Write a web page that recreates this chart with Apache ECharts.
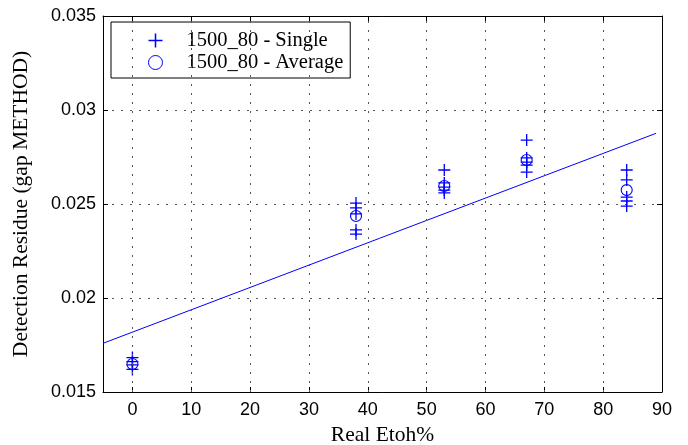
<!DOCTYPE html>
<html>
<head>
<meta charset="utf-8">
<script src="https://cdn.jsdelivr.net/npm/echarts@6/dist/echarts.min.js"></script>
<style>html,body{margin:0;padding:0;background:#fff;}#c{width:688px;height:445px;}</style>
</head>
<body>
<div id="c"></div>
<script>
// ---- data ----
var xTicks = [0, 10, 20, 30, 40, 50, 60, 70, 80, 90];
var singleX = [0, 0, 0, 0, 38, 38, 38, 38, 38, 53, 53, 53, 53, 53, 67, 67, 67, 67, 67, 84, 84, 84, 84, 84];
var singleY = [0.01683, 0.01662, 0.01644, 0.01620,
               0.02505, 0.02479, 0.02447, 0.02362, 0.02340,
               0.02681, 0.02612, 0.02590, 0.02574, 0.02559,
               0.02840, 0.02745, 0.02723, 0.02707, 0.02670,
               0.02681, 0.02628, 0.02537, 0.02516, 0.02489];
var avgX = [0, 38, 53, 67, 84];
var avgY = [0.01649, 0.02436, 0.02596, 0.02734, 0.02574];
var fitX = [-5, 89];
var fitY = [0.01759, 0.02876];

function pairs(xs, ys) { return xs.map(function (x, i) { return [x, ys[i]]; }); }

var BLUE = '#0000ff';
var plusPath = 'path://M4.45,0H5.55V4.45H10V5.55H5.55V10H4.45V5.55H0V4.45H4.45Z';
var grid = { type: [2, 7], color: '#555', width: 1 };

var chart = echarts.init(document.getElementById('c'), null, { renderer: 'canvas' });
chart.setOption({
  animation: false,
  backgroundColor: '#fff',
  grid: { left: 103, right: 26, top: 16, bottom: 53, containLabel: false, outerBoundsMode: 'none' },
  legend: {
    left: 111, top: 22, orient: 'vertical',
    borderColor: '#000', borderWidth: 1, backgroundColor: '#fff',
    padding: [8, 7, 5, 37],
    itemWidth: 14, itemHeight: 14, itemGap: 1,
    itemStyle: { borderWidth: 1 },
    textStyle: { fontFamily: 'Liberation Serif', fontSize: 20.5, color: '#000', lineHeight: 20, padding: [0, 0, 0, 19] },
    data: ['1500_80 - Single', '1500_80 - Average']
  },
  xAxis: [{
    type: 'value', min: -5, max: 90,
    name: 'Real Etoh%', nameLocation: 'middle', nameGap: 31,
    nameTextStyle: { fontFamily: 'Liberation Serif', fontSize: 21.5, color: '#000' },
    axisLine: { onZero: false, lineStyle: { color: '#000', width: 1 } },
    axisTick: { inside: true, length: 5, customValues: xTicks, lineStyle: { color: '#000' } },
    axisLabel: { customValues: xTicks, fontFamily: 'Liberation Sans', fontSize: 18, color: '#000', margin: 9 },
    splitLine: { show: false }
  }, {
    type: 'value', min: -5, max: 90, position: 'top',
    axisLine: { onZero: false, lineStyle: { color: '#000', width: 1 } },
    axisTick: { inside: true, length: 5, customValues: xTicks, lineStyle: { color: '#000' } },
    axisLabel: { show: false },
    splitLine: { show: false }
  }],
  yAxis: [{
    type: 'value', min: 0.015, max: 0.035, interval: 0.005,
    name: 'Detection Residue (gap METHOD)', nameLocation: 'middle', nameGap: 71,
    nameTextStyle: { fontFamily: 'Liberation Serif', fontSize: 21.5, color: '#000' },
    axisLine: { onZero: false, lineStyle: { color: '#000', width: 1 } },
    axisTick: { inside: true, length: 5, lineStyle: { color: '#000' } },
    axisLabel: { fontFamily: 'Liberation Sans', fontSize: 18, color: '#000', margin: 7 },
    splitLine: { show: true, lineStyle: grid }
  }, {
    type: 'value', min: 0.015, max: 0.035, interval: 0.005, position: 'right',
    axisLine: { onZero: false, lineStyle: { color: '#000', width: 1 } },
    axisTick: { inside: true, length: 5, lineStyle: { color: '#000' } },
    axisLabel: { show: false },
    splitLine: { show: false }
  }],
  series: [{
    name: 'xgrid', type: 'line', data: [], silent: true,
    markLine: {
      silent: true, symbol: 'none', label: { show: false },
      lineStyle: grid,
      data: xTicks.slice(0, -1).map(function (v) { return { xAxis: v }; })
    }
  }, {
    name: 'fit', type: 'line', data: pairs(fitX, fitY), showSymbol: false, silent: true,
    lineStyle: { color: BLUE, width: 1 }, z: 3
  }, {
    name: '1500_80 - Single', type: 'scatter', data: pairs(singleX, singleY),
    symbol: plusPath, symbolSize: 12, symbolKeepAspect: true,
    itemStyle: { color: BLUE, opacity: 1 }, z: 4
  }, {
    name: '1500_80 - Average', type: 'scatter', data: pairs(avgX, avgY),
    symbol: 'circle', symbolSize: 11,
    itemStyle: { color: 'rgba(0,0,0,0)', borderColor: BLUE, borderWidth: 1.1, opacity: 1 }, z: 5
  }]
});
</script>
</body>
</html>
